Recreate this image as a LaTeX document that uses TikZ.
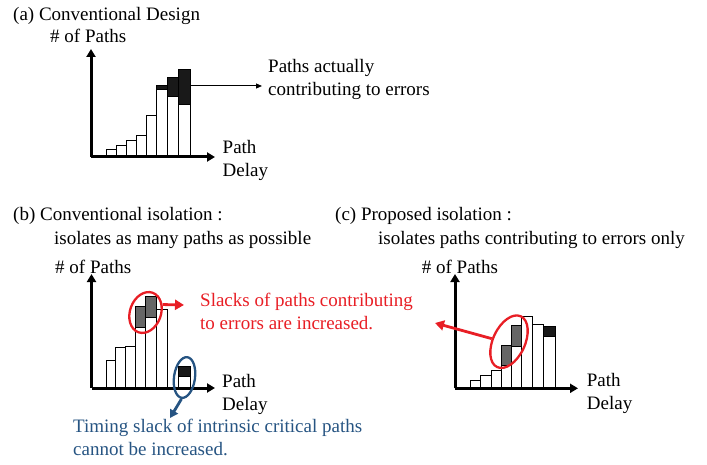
\documentclass[tikz,border=0pt]{standalone}
\usepackage{fontspec}
\setmainfont{Liberation Serif}
\usetikzlibrary{arrows.meta,shapes.geometric}
\definecolor{errred}{RGB}{232,30,37}
\definecolor{critblue}{RGB}{38,84,130}
\definecolor{slackgray}{RGB}{102,102,102}
\definecolor{errblack}{RGB}{25,25,25}
\begin{document}
\begin{tikzpicture}[x=1pt,y=-1pt,
  lbl/.style={inner sep=0pt, anchor=base west, font=\fontsize{19}{23}\selectfont},
  axis/.style={line width=3pt, -{Triangle[length=8pt,width=9pt]}},
  bar/.style={draw=black, line width=0.9pt, fill=white},
  grayblk/.style={draw=black, line width=0.9pt, fill=slackgray},
  blackblk/.style={draw=black, line width=0.9pt, fill=errblack},
  errell/.style={ellipse, draw=errred, line width=2.3pt, inner sep=0pt},
  critell/.style={ellipse, draw=critblue, line width=2.3pt, inner sep=0pt},
  errarrow/.style={draw=errred, line width=2.8pt, -{Triangle[length=9pt,width=10pt]}},
  critarrow/.style={draw=critblue, line width=2.8pt, -{Triangle[length=8pt,width=9pt]}},
  thinarrow/.style={draw=black, line width=1pt, -{Triangle[length=6pt,width=5pt]}}
]
\useasboundingbox (0,0) rectangle (707,465);

% ---------------- (a) conventional design ----------------
\node[lbl] (atitle) at (13,21) {(a) Conventional Design};
\node[lbl] (ay) at (50,43) {\# of Paths};
\coordinate (ao) at (91,157);
\coordinate (ayt) at (91,49);
\coordinate (axt) at (215,157);
\foreach \l/\r/\t in {106/116/149, 116/126/145, 126/136/140, 136/146.7/135,
                      146.7/156.7/115, 156.7/167.3/89, 167.3/178.7/96, 178.7/190/104}
  \draw[bar] (\l,157) rectangle (\r,\t);
\draw[blackblk] (156.7,85) rectangle (167.3,89);
\draw[blackblk] (167.3,77.7) rectangle (178.7,96);
\draw[blackblk] (178.7,69.3) rectangle (190,104);
\draw[axis] (ao) -- (ayt);
\draw[axis] (ao) -- (axt);
\coordinate (aerr) at (190,86);
\coordinate (atip) at (262,86);
\draw[thinarrow] (aerr) -- (atip);
\node[lbl] (anote1) at (268,73) {Paths actually};
\node[lbl] (anote2) at (268,96) {contributing to errors};
\node[lbl] (ax1) at (222.5,154) {Path};
\node[lbl] (ax2) at (222.5,177) {Delay};

% ---------------- (b) conventional isolation ----------------
\node[lbl] (btitle) at (13,221) {(b) Conventional isolation :};
\node[lbl] (bsub) at (54,244) {isolates as many paths as possible};
\node[lbl] (by) at (55,273) {\# of Paths};
\coordinate (bo) at (91.5,388);
\coordinate (byt) at (91.5,274);
\coordinate (bxt) at (215,388);
\foreach \l/\r/\t in {106/115.5/360.7, 115.5/125/347.3, 125/135/346.7, 135/145.7/327.3,
                      145.7/156.7/317.3, 156.7/167.7/309.3, 178.3/190/376}
  \draw[bar] (\l,388) rectangle (\r,\t);
\draw[grayblk] (135,306) rectangle (145.7,327.3);
\draw[grayblk] (145.7,296) rectangle (156.7,317.3);
\draw[blackblk] (178.3,366) rectangle (190,376);
\draw[axis] (bo) -- (byt);
\draw[axis] (bo) -- (bxt);
\node[errell, minimum width=31pt, minimum height=42pt, rotate=-20] (bell) at (145.5,312.5) {};
\coordinate (btip) at (184,305);
\draw[errarrow] (bell.45) -- (btip);
\node[lbl, text=errred] (bnote1) at (200,306) {Slacks of paths contributing};
\node[lbl, text=errred] (bnote2) at (200,329) {to errors are increased.};
\node[critell, minimum width=21pt, minimum height=41pt, rotate=-8] (cell) at (184.5,377.5) {};
\coordinate (ctip) at (170,418);
\draw[critarrow] (cell.south) -- (ctip);
\node[lbl, text=critblue] (cnote1) at (73,432) {Timing slack of intrinsic critical paths};
\node[lbl, text=critblue] (cnote2) at (73,455) {cannot be increased.};
\node[lbl] (bx1) at (222,387) {Path};
\node[lbl] (bx2) at (222,410) {Delay};

% ---------------- (c) proposed isolation ----------------
\node[lbl] (ptitle) at (335,221) {(c) Proposed isolation :};
\node[lbl] (psub) at (378,244) {isolates paths contributing to errors only};
\node[lbl] (py) at (421.7,273) {\# of Paths};
\coordinate (po) at (455,388.3);
\coordinate (pyt) at (455,274);
\coordinate (pxt) at (578,388.3);
\foreach \l/\r/\t in {470.7/480.7/380, 480.7/491/375.3, 491/501/370.3, 501/511/365.7,
                      511/521/346, 521/532.3/316, 532.3/543.3/324.3, 543.3/555.3/336}
  \draw[bar] (\l,388.3) rectangle (\r,\t);
\draw[grayblk] (501,345) rectangle (511,365.7);
\draw[grayblk] (511,325) rectangle (521,346);
\draw[blackblk] (543.3,326.7) rectangle (555.3,336);
\draw[axis] (po) -- (pyt);
\draw[axis] (po) -- (pxt);
\node[errell, minimum width=32pt, minimum height=56pt, rotate=-25] (pell) at (509,341.7) {};
\coordinate (ptip) at (435,323);
\draw[errarrow] (pell.195) -- (ptip);
\node[lbl] (px1) at (586.7,386) {Path};
\node[lbl] (px2) at (586.7,409) {Delay};
\end{tikzpicture}
\end{document}
